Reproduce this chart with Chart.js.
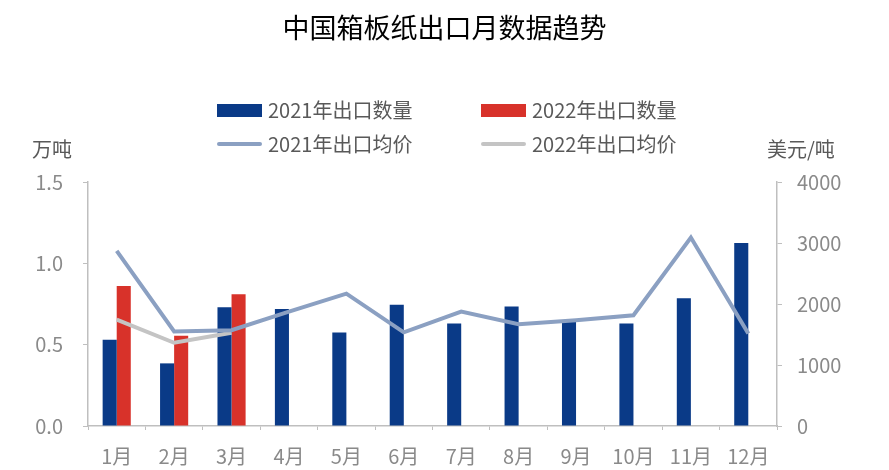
<!DOCTYPE html>
<html>
<head>
<meta charset="utf-8">
<script src="https://cdn.jsdelivr.net/npm/chart.js@4/dist/chart.umd.min.js"></script>
<style>
  body { margin: 0; background: #fff; font-family: "Noto Sans CJK SC", "Noto Sans", sans-serif; }
  #wrap { position: relative; width: 889px; height: 470px; }
  #title { position: absolute; left: 0; width: 889px; top: 9px; text-align: center; font-size: 27px; color: #000; line-height: 36px; }
  .lg { position: absolute; font-size: 20px; color: #595959; line-height: 24px; }
  .sw { position: absolute; left: -51px; width: 45px; }
  .unit { position: absolute; top: 137px; font-size: 20px; color: #595959; line-height: 24px; }
</style>
</head>
<body>
<div id="wrap">
  <div id="title">中国箱板纸出口月数据趋势</div>
  <div id="legend"></div>
  <div class="unit" style="left:32px">万吨</div>
  <div class="unit" style="left:767px">美元/吨</div>
  <canvas id="c" width="889" height="470"></canvas>
</div>
<script>
const months = ['1月', '2月', '3月', '4月', '5月', '6月', '7月', '8月', '9月', '10月', '11月', '12月'];
const qty2021 = [0.53, 0.385, 0.73, 0.72, 0.575, 0.745, 0.63, 0.735, 0.645, 0.63, 0.785, 1.125];
const qty2022 = [0.86, 0.555, 0.81, null, null, null, null, null, null, null, null, null];
const price2021 = [2870, 1550, 1570, 1875, 2170, 1535, 1875, 1670, 1735, 1815, 3090, 1515];
const price2022 = [1745, 1365, 1530, null, null, null, null, null, null, null, null, null];

const tickColor = '#8a8a8a';
const axisColor = '#bfbfbf';

const series = [
    { label: '2021年出口数量', kind: 'box', color: '#0a3a87', x: 268, y: 98 },
    { label: '2022年出口数量', kind: 'box', color: '#d8322a', x: 532, y: 98 },
    { label: '2021年出口均价', kind: 'line', color: '#8ba0c2', x: 268, y: 132 },
    { label: '2022年出口均价', kind: 'line', color: '#c4c4c4', x: 532, y: 132 }
];

// legend in a 2x2 grid, like the original
const legend = document.getElementById('legend');
series.forEach(function (s) {
    const d = document.createElement('div');
    d.className = 'lg';
    d.style.left = s.x + 'px';
    d.style.top = s.y + 'px';
    d.textContent = s.label;
    const sw = document.createElement('span');
    sw.className = 'sw';
    sw.style.background = s.color;
    if (s.kind === 'box') { sw.style.top = '6px'; sw.style.height = '13px'; }
    else { sw.style.top = '10px'; sw.style.height = '4px'; sw.style.borderRadius = '2px'; }
    d.appendChild(sw);
    legend.appendChild(d);
});

const font = { family: '"Noto Sans CJK SC", "Noto Sans", sans-serif', size: 20 };

new Chart(document.getElementById('c'), {
    data: {
        labels: months,
        datasets: [
            { type: 'line', label: series[2].label, data: price2021, yAxisID: 'y2', borderColor: series[2].color,
              borderWidth: 4, pointRadius: 0, tension: 0, order: 1 },
            { type: 'line', label: series[3].label, data: price2022, yAxisID: 'y2', borderColor: series[3].color,
              borderWidth: 4, pointRadius: 0, tension: 0, order: 2 },
            { type: 'bar', label: series[0].label, data: qty2021, yAxisID: 'y', backgroundColor: series[0].color,
              categoryPercentage: 0.49, barPercentage: 1, order: 3 },
            { type: 'bar', label: series[1].label, data: qty2022, yAxisID: 'y', backgroundColor: series[1].color,
              categoryPercentage: 0.49, barPercentage: 1, order: 4 }
        ]
    },
    options: {
        responsive: false,
        animation: false,
        layout: { padding: { top: 182, left: 0, right: 0, bottom: 0 } },
        plugins: { legend: { display: false }, tooltip: { enabled: false } },
        scales: {
            x: {
                offset: true,
                grid: { display: true, drawOnChartArea: false, offset: true, color: axisColor, tickLength: 4 },
                border: { color: axisColor, width: 1.5 },
                ticks: { color: tickColor, font: font, padding: 14, maxRotation: 0, autoSkip: false },
                afterFit: function (s) { s.height = 44; }
            },
            y: {
                position: 'left',
                min: 0, max: 1.5,
                ticks: { stepSize: 0.5, color: tickColor, font: font, padding: 20,
                         callback: function (v) { return v.toFixed(1); } },
                grid: { display: true, drawOnChartArea: false, color: axisColor, tickLength: 5 },
                border: { color: axisColor, width: 1.5 },
                afterFit: function (s) { s.width = 88; }
            },
            y2: {
                position: 'right',
                min: 0, max: 4000,
                ticks: { stepSize: 1000, color: tickColor, font: font, padding: 15,
                         callback: function (v) { return String(v); } },
                grid: { display: true, drawOnChartArea: false, color: axisColor, tickLength: 5 },
                border: { color: axisColor, width: 1.5 },
                afterFit: function (s) { s.width = 112; }
            }
        }
    }
});
</script>
</body>
</html>
